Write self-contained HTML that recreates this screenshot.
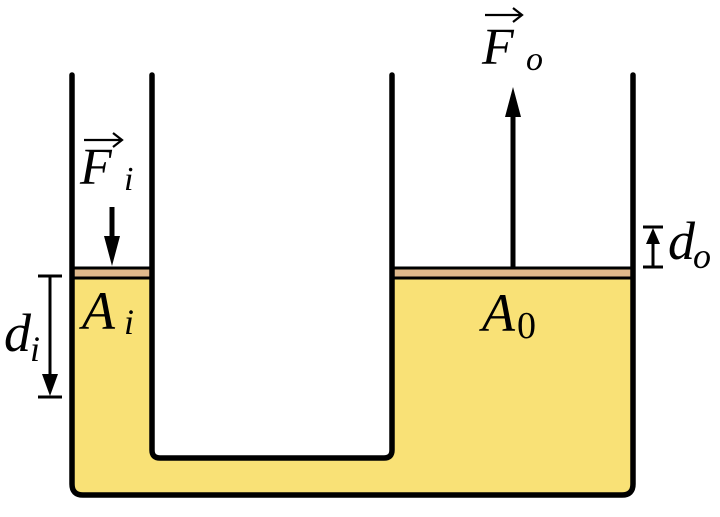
<!DOCTYPE html>
<html><head><style>
body{margin:0;background:#fff}
svg text{font-family:"Liberation Serif",serif;font-style:italic;fill:#000}
</style></head><body>
<svg width="720" height="512" viewBox="0 0 720 512" xmlns="http://www.w3.org/2000/svg">
<!-- fluid -->
<path d="M72,278 H152 V450 Q152,458 160,458 H384 Q392,458 392,450 V278 H633 V484 Q633,495 622,495 H83 Q72,495 72,484 Z" fill="#f9e176"/>
<!-- pistons -->
<rect x="72" y="268" width="80" height="10" fill="#e0b98c" stroke="#000" stroke-width="3"/>
<rect x="392" y="268" width="241" height="10" fill="#e0b98c" stroke="#000" stroke-width="3"/>
<!-- walls -->
<path d="M72,75 V484 Q72,495 83,495 H622 Q633,495 633,484 V75" fill="none" stroke="#000" stroke-width="5.5" stroke-linecap="round"/>
<path d="M152,75 V450 Q152,458 160,458 H384 Q392,458 392,450 V75" fill="none" stroke="#000" stroke-width="5.5" stroke-linecap="round"/>
<!-- F_i arrow -->
<line x1="112" y1="207" x2="112" y2="240" stroke="#000" stroke-width="5"/>
<polygon points="104,236 120,236 112,266" fill="#000"/>
<!-- F_o arrow -->
<line x1="513" y1="267" x2="513" y2="110" stroke="#000" stroke-width="5"/>
<polygon points="505,117 521,117 513,87" fill="#000"/>
<!-- d_i -->
<line x1="38" y1="276" x2="62" y2="276" stroke="#000" stroke-width="3"/>
<line x1="38" y1="397" x2="62" y2="397" stroke="#000" stroke-width="3"/>
<line x1="50" y1="276" x2="50" y2="390" stroke="#000" stroke-width="3"/>
<polygon points="42,374 58,374 50,396" fill="#000"/>
<!-- d_o -->
<line x1="643" y1="227" x2="663" y2="227" stroke="#000" stroke-width="3"/>
<line x1="643" y1="267" x2="663" y2="267" stroke="#000" stroke-width="3"/>
<line x1="653" y1="267" x2="653" y2="235" stroke="#000" stroke-width="3"/>
<polygon points="646,244 660,244 653,228" fill="#000"/>
<!-- labels -->
<text x="80" y="184" font-size="52">F</text>
<text x="124" y="190" font-size="34">i</text>
<path d="M84,140 H121 M113,133 L122,140 L113,147" fill="none" stroke="#000" stroke-width="2.2"/>
<text x="482" y="64" font-size="52">F</text>
<text x="526" y="70" font-size="34">o</text>
<path d="M485,15 H521 M513,8 L522,15 L513,22" fill="none" stroke="#000" stroke-width="2.2"/>
<text x="82" y="329" font-size="54">A</text>
<text x="124" y="334" font-size="36">i</text>
<text x="482" y="331" font-size="54">A</text>
<text x="517" y="338" font-size="38" style="font-style:normal">0</text>
<text x="4" y="351" font-size="54">d</text>
<text x="30" y="361" font-size="36">i</text>
<text x="668" y="259" font-size="54">d</text>
<text x="693" y="268" font-size="36">o</text>
</svg>
</body></html>
